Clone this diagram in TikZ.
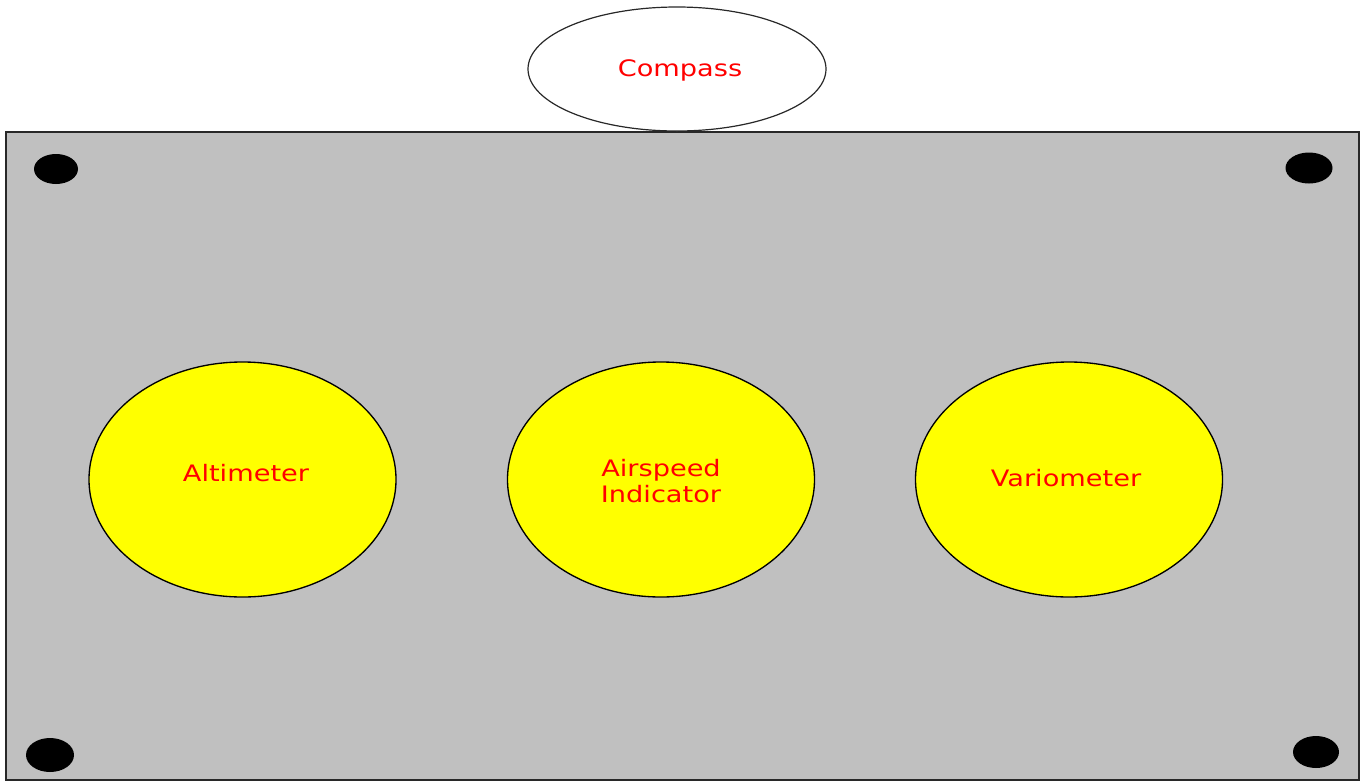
\documentclass[tikz,border=0pt]{standalone}
\usepackage{fontspec}
\setmainfont{DejaVu Sans}[FakeStretch=1.2]
\usetikzlibrary{shapes.geometric}
\definecolor{panelgray}{RGB}{192,192,192}
\definecolor{edgegray}{RGB}{40,40,40}
\definecolor{labelred}{RGB}{255,0,0}
\definecolor{gaugeyellow}{RGB}{255,255,0}
\tikzset{
  gauge/.style={ellipse, draw=black, line width=1pt, fill=gaugeyellow,
    minimum width=307*0.75pt, minimum height=235*0.75pt, inner sep=0pt},
  lbl/.style={text=labelred, font=\fontsize{17pt}{20pt}\selectfont, align=center, inner sep=0pt},
  screw/.style={ellipse, fill=black, draw=none, inner sep=0pt}
}
\begin{document}
\begin{tikzpicture}[x=0.75pt, y=-0.75pt]
  \useasboundingbox (0,0) rectangle (1366,782);
  % instrument panel
  \node[draw=edgegray, line width=1.5pt, fill=panelgray, rectangle, inner sep=0pt,
        minimum width=1353*0.75pt, minimum height=648*0.75pt] (panel) at (682.5,456) {};
  % compass on top of the panel
  \node[ellipse, draw=edgegray, line width=0.9pt, fill=white,
        minimum width=298*0.75pt, minimum height=124*0.75pt, inner sep=0pt] (compass) at (677,69) {};
  \node[lbl] (compasslbl) at (680,70) {Compass};
  % mounting screws
  \node[screw, minimum width=44*0.75pt, minimum height=30*0.75pt] (s1) at (56,169) {};
  \node[screw, minimum width=47*0.75pt, minimum height=31*0.75pt] (s2) at (1309,168) {};
  \node[screw, minimum width=48*0.75pt, minimum height=34*0.75pt] (s3) at (50,755) {};
  \node[screw, minimum width=46*0.75pt, minimum height=32*0.75pt] (s4) at (1316,752) {};
  % gauges
  \node[gauge] (alt) at (242.5,479.5) {};
  \node[gauge] (asi) at (661,479.5) {};
  \node[gauge] (vario) at (1069,479.5) {};
  \node[lbl] (altlbl) at (246,473) {Altimeter};
  \node[lbl] (asilbl) at (661,481) {Airspeed\\[0pt]Indicator};
  \node[lbl] (variolbl) at (1066,478) {Variometer};
\end{tikzpicture}
\end{document}
